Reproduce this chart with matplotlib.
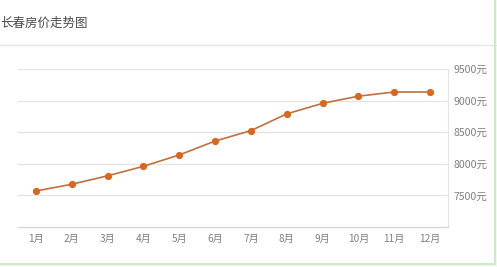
import matplotlib
matplotlib.use("Agg")
import matplotlib.pyplot as plt
from matplotlib.lines import Line2D
from matplotlib.patches import Rectangle

plt.rcParams['font.family'] = ['Noto Sans CJK SC', 'DejaVu Sans']

# 数据
months = ["1月", "2月", "3月", "4月", "5月", "6月", "7月", "8月", "9月", "10月", "11月", "12月"]
prices = [7570, 7676, 7810, 7960, 8140, 8360, 8525, 8790, 8957, 9070, 9136, 9136]
yticks = [7500, 8000, 8500, 9000, 9500]
ytick_labels = ["7500元", "8000元", "8500元", "9000元", "9500元"]
title = "长春房价走势图"

W, H = 497, 267
fig = plt.figure(figsize=(W / 100, H / 100), dpi=100)
fig.patch.set_facecolor("white")

# 坐标轴位置 (像素 -> 比例)
left, right, top, bottom = 18, 448, 69, 227
ax = fig.add_axes([left / W, 1 - bottom / H, (right - left) / W, (bottom - top) / H])

x = list(range(1, len(months) + 1))
ax.plot(x, prices, color="#bf7040", lw=1.2, zorder=3)
ax.plot(x, prices, "o", color="#d9681e", ms=4.2, zorder=4)

ax.set_xlim(0.5, 12.5)
ax.set_ylim(7000, 9500)
ax.set_xticks(x)
ax.set_xticklabels(months, fontsize=7.3, color="#808080")
ax.set_yticks(yticks)
ax.set_yticklabels(ytick_labels, fontsize=7.6, color="#808080")
ax.yaxis.tick_right()
ax.tick_params(axis="y", length=0, pad=4)
ax.tick_params(axis="x", length=0, pad=5)
ax.grid(axis="y", color="#e4e4e4", lw=0.9)
ax.set_axisbelow(True)

for s in ["left", "top"]:
    ax.spines[s].set_visible(False)
ax.spines["right"].set_color("#e4e4e4")
ax.spines["bottom"].set_color("#d8d8d8")
ax.spines["bottom"].set_linewidth(1.0)

# 标题和分隔线
fig.text(0 / W, 1 - 23 / H, title, fontsize=9, color="#4a4a4a", va="center", ha="left")
fig.add_artist(Line2D([0, 1], [1 - 45 / H, 1 - 45 / H], color="#e6e6e6", lw=1.0,
                      transform=fig.transFigure))

# 绿色边框
fig.add_artist(Line2D([494.5 / W, 494.5 / W], [1 - 263 / H, 1], color="#cfe8c8", lw=1.5,
                      transform=fig.transFigure))
fig.add_artist(Line2D([0, 494.5 / W], [1 - 263.5 / H, 1 - 263.5 / H], color="#cfe8c8", lw=1.5,
                      transform=fig.transFigure))
fig.add_artist(Rectangle((495.5 / W, 0), 2 / W, 1, color="#f4f9f2", transform=fig.transFigure))
fig.add_artist(Rectangle((0, 0), 1, 3 / H, color="#f4f9f2", transform=fig.transFigure))

fig.savefig("out.png", dpi=100)
